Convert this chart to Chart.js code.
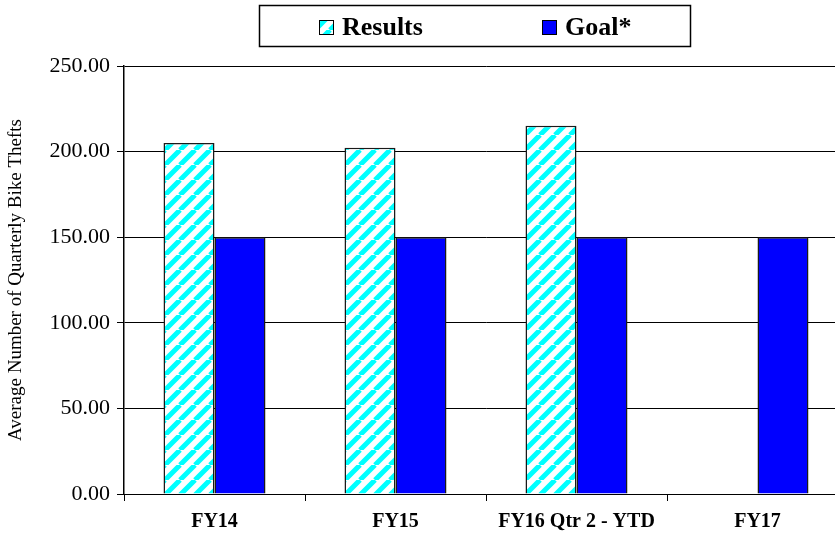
<!DOCTYPE html>
<html>
<head>
<meta charset="utf-8">
<title>Average Number of Quarterly Bike Thefts</title>
<script src="https://cdn.jsdelivr.net/npm/chart.js@4/dist/chart.umd.min.js"></script>
<style>
  body {
    margin: 0;
    background: #ffffff;
    overflow: hidden;
  }
</style>
</head>
<body onload="init()">
<canvas id="myChart" width="860" height="543"></canvas>
<script>
let categories = ["FY14", "FY15", "FY16 Qtr 2 - YTD", "FY17"];
let resultValues = [205.0, 202.3, 215.1, null];
let goalValues = [150, 150, 150, 150];
let yTicks = [0, 50, 100, 150, 200, 250];
let seriesNames = ["Results", "Goal*"];

let serif = "'Liberation Serif', 'Times New Roman', serif";

function stripePattern() {
  let size = 15;
  let c = document.createElement("canvas");
  c.width = size;
  c.height = size;
  let g = c.getContext("2d");
  g.fillStyle = "#ffffff";
  g.fillRect(0, 0, size, size);
  g.strokeStyle = "#00ffff";
  g.lineWidth = 5;
  g.beginPath();
  // "/" stripes, repeated so the tile joins up at its edges
  for (let k = -1; k <= 1; k++) {
    g.moveTo(k * size, size);
    g.lineTo(k * size + size, 0);
  }
  g.stroke();
  return g.createPattern(c, "repeat");
}

// boxed legend across the top
let boxLegend = {
  id: "boxLegend",
  afterDraw(chart) {
    let ctx = chart.ctx;
    ctx.save();
    ctx.strokeStyle = "#000000";
    ctx.lineWidth = 1.5;
    ctx.strokeRect(259.5, 5.5, 431, 41);

    ctx.font = "bold 26px " + serif;
    ctx.textBaseline = "middle";
    ctx.fillStyle = "#000000";

    let items = [
      { x: 319, fill: chart.data.datasets[0].backgroundColor },
      { x: 542, fill: chart.data.datasets[1].backgroundColor },
    ];
    for (let i = 0; i < items.length; i++) {
      ctx.fillStyle = items[i].fill;
      ctx.fillRect(items[i].x, 20, 14, 14);
      ctx.strokeStyle = "#000000";
      ctx.lineWidth = 1;
      ctx.strokeRect(items[i].x + 0.5, 20.5, 14, 14);
      ctx.fillStyle = "#000000";
      ctx.fillText(seriesNames[i], items[i].x + 23, 28);
    }
    ctx.restore();
  },
};

function init() {
  const ctx = document.getElementById("myChart");

  new Chart(ctx, {
    type: "bar",
    data: {
      labels: categories,
      datasets: [
        {
          label: seriesNames[0],
          data: resultValues,
          backgroundColor: stripePattern(),
          borderColor: "#1a1a1a",
          borderWidth: 1.5,
          inflateAmount: 0,
        },
        {
          label: seriesNames[1],
          data: goalValues,
          backgroundColor: "#0000ff",
          borderColor: "#1a1a1a",
          borderWidth: 1.5,
          inflateAmount: 0,
        },
      ],
    },
    options: {
      responsive: false,
      animation: false,
      devicePixelRatio: 1,
      categoryPercentage: 0.5635,
      barPercentage: 1,
      layout: {
        padding: { top: 66, left: 0, right: 12, bottom: 0 },
      },
      plugins: {
        legend: { display: false },
        tooltip: { enabled: false },
      },
      scales: {
        x: {
          grid: {
            drawOnChartArea: false,
            drawTicks: true,
            tickLength: 7,
            color: "#000000",
            lineWidth: 1,
          },
          border: { display: true, color: "#000000", width: 1 },
          ticks: {
            color: "#000000",
            padding: 9,
            maxRotation: 0,
            font: { family: serif, size: 20, weight: "bold" },
          },
          afterFit: (scale) => {
            scale.height = 49;
          },
        },
        y: {
          min: 0,
          max: 250,
          afterBuildTicks: (scale) => {
            scale.ticks = yTicks.map((v) => ({ value: v }));
          },
          grid: {
            drawTicks: true,
            tickLength: 7,
            color: "#000000",
            lineWidth: 1,
          },
          border: { display: true, color: "#000000", width: 1.5 },
          ticks: {
            color: "#000000",
            padding: 7,
            font: { family: serif, size: 22 },
            callback: (v) => Number(v).toFixed(2),
          },
          title: {
            display: true,
            text: "Average Number of Quarterly Bike Thefts",
            color: "#000000",
            padding: { top: 5, bottom: 0 },
            font: { family: serif, size: 19 },
          },
          afterFit: (scale) => {
            scale.width = 124;
          },
        },
      },
    },
    plugins: [boxLegend],
  });
}
</script>
</body>
</html>
